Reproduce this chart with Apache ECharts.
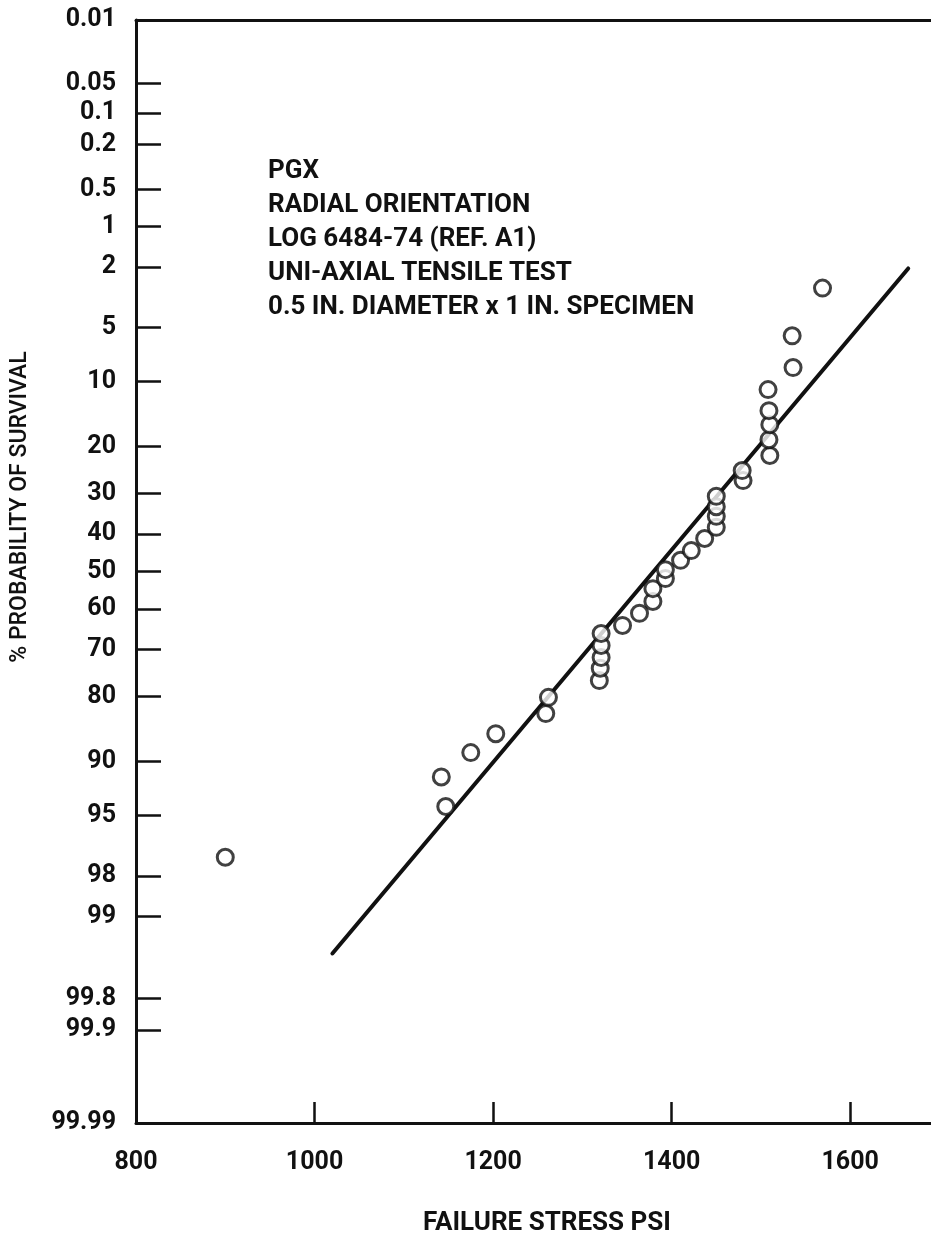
<!DOCTYPE html>
<html>
<head>
<meta charset="utf-8">
<title>PGX failure stress probability plot</title>
<script src="https://cdn.jsdelivr.net/npm/echarts@6/dist/echarts.min.js"></script>
<style>
  html, body { margin: 0; padding: 0; background: #fff; }
  #chart { width: 931px; height: 1235px; }
</style>
</head>
<body>
<div id="chart"></div>
<script>
// Probability-paper tick labels (% survival), top to bottom
const yTickLabels = ['0.01', '0.05', '0.1', '0.2', '0.5', '1', '2', '5', '10', '20', '30', '40',
  '50', '60', '70', '80', '90', '95', '98', '99', '99.8', '99.9', '99.99'];

// Stress axis ticks (psi)
const xTicks = [800, 1000, 1200, 1400, 1600];

// Specimen failure stresses (psi) and their plotted % probability of survival
const stress = [900, 1142, 1147, 1175, 1203, 1259, 1262,
  1319, 1320, 1321, 1321, 1321, 1345, 1364, 1379, 1379, 1393, 1393,
  1410, 1422, 1437, 1450, 1450, 1450, 1450, 1480, 1479,
  1510, 1509, 1510, 1509, 1508, 1536, 1535, 1569];
const survival = [97.3, 91.7, 94.35, 88.9, 86.3, 83.1, 80.2,
  76.9, 74.3, 71.9, 69.1, 66.2, 64.2, 61.1, 58.0, 54.6, 51.9, 49.5,
  47.0, 44.4, 41.2, 38.3, 35.5, 33.1, 30.6, 27.0, 24.8,
  21.7, 18.7, 16.1, 13.9, 11.0, 8.45, 5.6, 2.8];

// Fitted distribution line end points: stress (psi), % survival
const fitStress = [1020, 1665];
const fitSurvival = [99.5, 2.05];

const annotation = [
  'PGX',
  'RADIAL ORIENTATION',
  'LOG 6484-74 (REF. A1)',
  'UNI-AXIAL TENSILE TEST',
  '0.5 IN. DIAMETER x 1 IN. SPECIMEN'
];

// Inverse standard normal CDF (Acklam's rational approximation):
// the vertical axis of normal probability paper is linear in this value.
function probit(p) {
  const a = [-3.969683028665376e+01, 2.209460984245205e+02, -2.759285104469687e+02,
    1.383577518672690e+02, -3.066479806614716e+01, 2.506628277459239e+00];
  const b = [-5.447609879822406e+01, 1.615858368580409e+02, -1.556989798598866e+02,
    6.680131188771972e+01, -1.328068155833025e+01];
  const c = [-7.784894002430293e-03, -3.223964580411365e-01, -2.400758277161838e+00,
    -2.549732539343734e+00, 4.374664141464968e+00, 2.938163982698783e+00];
  const d = [7.784695709041462e-03, 3.224671290700398e-01, 2.445134137142996e+00,
    3.754408661907416e+00];
  const plow = 0.02425, phigh = 1 - plow;
  let q, r;
  if (p < plow) {
    q = Math.sqrt(-2 * Math.log(p));
    return (((((c[0] * q + c[1]) * q + c[2]) * q + c[3]) * q + c[4]) * q + c[5]) /
      ((((d[0] * q + d[1]) * q + d[2]) * q + d[3]) * q + 1);
  }
  if (p <= phigh) {
    q = p - 0.5; r = q * q;
    return (((((a[0] * r + a[1]) * r + a[2]) * r + a[3]) * r + a[4]) * r + a[5]) * q /
      (((((b[0] * r + b[1]) * r + b[2]) * r + b[3]) * r + b[4]) * r + 1);
  }
  q = Math.sqrt(-2 * Math.log(1 - p));
  return -(((((c[0] * q + c[1]) * q + c[2]) * q + c[3]) * q + c[4]) * q + c[5]) /
    ((((d[0] * q + d[1]) * q + d[2]) * q + d[3]) * q + 1);
}
const toScale = pct => probit(pct / 100);

const yTickValues = yTickLabels.map(s => toScale(parseFloat(s)));
const yMin = yTickValues[0];
const yMax = yTickValues[yTickValues.length - 1];

function labelFor(v) {
  let best = 0;
  for (let i = 1; i < yTickValues.length; i++) {
    if (Math.abs(yTickValues[i] - v) < Math.abs(yTickValues[best] - v)) best = i;
  }
  return yTickLabels[best];
}

const FONT = '"Liberation Sans Narrow", "Arial Narrow", Roboto, sans-serif';
const INK = '#111';

const points = stress.map((s, i) => [s, toScale(survival[i])]);
const fitLine = fitStress.map((s, i) => [s, toScale(fitSurvival[i])]);

const chart = echarts.init(document.getElementById('chart'), null, { renderer: 'canvas' });

chart.setOption({
  animation: false,
  backgroundColor: '#fff',
  grid: {
    left: 136, top: 20, right: -4, bottom: 112,
    containLabel: false,
    outerBoundsMode: 'none'
  },
  xAxis: [
    {
      type: 'value',
      position: 'bottom',
      min: 800,
      max: 1695,
      interval: 200,
      splitLine: { show: false },
      axisLine: { show: true, onZero: false, lineStyle: { color: INK, width: 3 } },
      axisTick: { show: true, inside: true, length: 21, lineStyle: { color: INK, width: 2.5 } },
      axisLabel: {
        show: true, margin: 27, color: INK, fontFamily: FONT, fontWeight: 'bold', fontSize: 25,
        showMaxLabel: false,
        formatter: v => (xTicks.indexOf(v) >= 0 ? String(v) : '')
      }
    },
    {
      type: 'value',
      position: 'top',
      min: 800,
      max: 1695,
      interval: 200,
      splitLine: { show: false },
      axisLine: { show: true, onZero: false, lineStyle: { color: INK, width: 3 } },
      axisTick: { show: false },
      axisLabel: { show: false }
    }
  ],
  yAxis: {
    type: 'value',
    inverse: true,
    min: yMin,
    max: yMax,
    splitLine: { show: false },
    axisLine: { show: true, onZero: false, lineStyle: { color: INK, width: 3 } },
    axisTick: {
      show: true, inside: true, length: 25,
      customValues: yTickValues.slice(1, -1),
      lineStyle: { color: INK, width: 2.5 }
    },
    axisLabel: {
      show: true, margin: 20, color: INK, fontFamily: FONT, fontWeight: 'bold', fontSize: 25,
      customValues: yTickValues,
      formatter: v => labelFor(v)
    }
  },
  series: [
    {
      type: 'line',
      data: fitLine,
      symbol: 'none',
      lineStyle: { color: INK, width: 4, cap: 'round' },
      z: 2
    },
    {
      type: 'scatter',
      data: points,
      symbol: 'circle',
      symbolSize: 16,
      itemStyle: { color: '#fff', borderColor: INK, borderWidth: 3 },
      z: 3
    }
  ],
  graphic: [
    {
      type: 'group',
      left: 268,
      top: 158,
      children: annotation.map((line, i) => ({
        type: 'text',
        x: 0,
        y: i * 34,
        style: {
          text: line,
          fill: INK,
          font: 'bold 26px ' + FONT,
          textVerticalAlign: 'top'
        }
      }))
    },
    {
      type: 'text',
      x: 547,
      y: 1223,
      style: {
        text: 'FAILURE STRESS PSI',
        fill: INK,
        font: 'bold 26px ' + FONT,
        textAlign: 'center',
        textVerticalAlign: 'middle'
      }
    },
    {
      type: 'text',
      x: 20,
      y: 507,
      rotation: Math.PI / 2,
      style: {
        text: '% PROBABILITY OF SURVIVAL',
        fill: INK,
        font: '500 23px ' + FONT,
        textAlign: 'center',
        textVerticalAlign: 'middle'
      }
    }
  ]
});
</script>
</body>
</html>
